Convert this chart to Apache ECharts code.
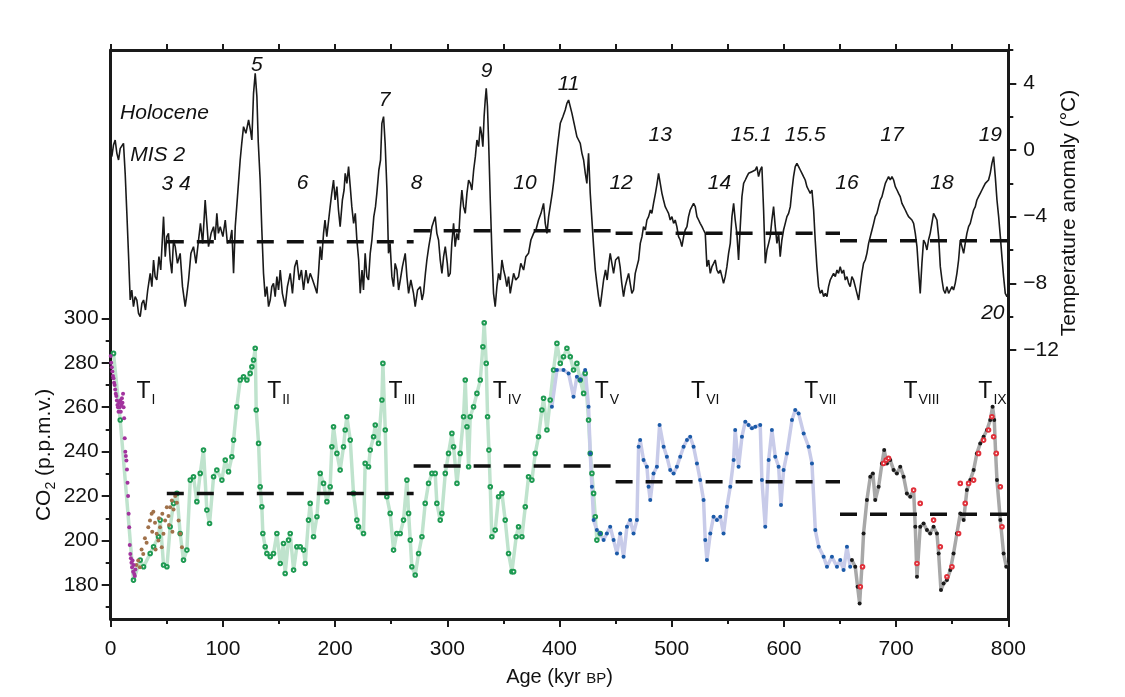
<!DOCTYPE html>
<html>
<head>
<meta charset="utf-8">
<script src="https://cdn.jsdelivr.net/npm/echarts@6/dist/echarts.min.js"></script>
<style>html,body{margin:0;padding:0;background:#fff}#chart{width:1125px;height:697px}</style>
</head>
<body>
<div id="chart"></div>
<script>
// ---------------- DATA ----------------
// Temperature anomaly (°C) vs age (kyr BP)
const temperature = [
[1.0,-0.4],[2.5,0.3],[4,0.6],[5.5,-0.2],[7,-0.6],[8.5,0.1],[10,0.2],[11.4,0.4],[12.9,-1.4],[14.4,-3.8],[16,-6.5],[17.4,-9],[18.8,-8.4],[20.3,-9.4],[21.8,-8.8],[23.3,-9],[24.8,-9.8],[26.3,-10],[27.8,-9.2],[29.3,-9],[31,-9.6],[33,-8.4],[35.2,-7.4],[36.7,-8.2],[38.2,-6.6],[39.6,-7.6],[41.1,-7.8],[43,-6.4],[44.6,-7.2],[47.1,-4],[48.6,-6.4],[50,-5.2],[51.5,-5],[53,-6.6],[54.5,-7.4],[56,-5.4],[57.5,-5.8],[59.5,-6.8],[61.9,-6.2],[64,-8.2],[66.4,-9.4],[68,-8.6],[69.4,-7.8],[71.5,-6.2],[73.8,-5.8],[76,-6.8],[78.3,-5.4],[80,-4.4],[82,-5.6],[84.2,-3],[85.7,-4.4],[87.2,-5.8],[89.5,-5.0],[91.7,-4.6],[93,-5.4],[94.6,-3.8],[96,-5],[97.6,-4.6],[100,-5.2],[102.1,-4.2],[104,-5.6],[106.5,-5.4],[108,-4.8],[109.5,-7.4],[111,-4.6],[113,-2.8],[115.4,-0.6],[116.8,0.4],[118.4,1.4],[120.5,1.0],[122.9,1.8],[124.5,1.2],[125.8,0.6],[127.3,3.4],[128.8,4.6],[130.3,3.2],[131.5,0.5],[133.2,-1.8],[134.7,-4.8],[136.2,-7.4],[137.7,-8.8],[139.2,-8.2],[140.7,-9.4],[142.2,-9],[143.6,-8.2],[145.1,-8],[146.6,-8.8],[148.1,-7.6],[149.6,-8.4],[151.1,-7.2],[153,-8.6],[155.5,-9.4],[157.5,-8.2],[160,-7.4],[162,-8.6],[164,-7],[165.9,-6.6],[168,-7.8],[170,-7.2],[171.9,-8.4],[174,-7.2],[175.8,-8],[177.8,-7.4],[180,-7.8],[182,-8.2],[183.8,-8.6],[185.2,-7.4],[186.7,-5.8],[188,-6.6],[189.7,-5],[191,-4.2],[192.6,-5.2],[195.6,-3.4],[197,-2.6],[198.6,-1.8],[200,-3],[201.6,-2.2],[203,-3.6],[204.5,-4.6],[206.5,-3],[208,-2.4],[209,-1.4],[210.5,-2],[212,-1],[213.5,-2.2],[214.9,-3.4],[216.5,-4.4],[218,-3.8],[219.4,-5.4],[221,-6.6],[222.4,-8.6],[224,-7.2],[225.3,-8.4],[226.8,-6.2],[228.3,-7.6],[229.8,-7.8],[231.3,-6.2],[232.8,-5.4],[234.5,-4],[236,-3.4],[237.2,-2.6],[239,-1.2],[240.5,-0.6],[241.7,1.6],[243.2,2],[244.6,0.4],[246.2,-2.4],[247.6,-6.2],[249,-5.6],[250.6,-7.6],[252.1,-8.2],[253.5,-6.8],[255.1,-7.2],[256.6,-8.4],[258.1,-7.8],[260,-7.0],[262.5,-6.2],[264,-7.6],[265.5,-8.6],[267.5,-7.8],[269.9,-8.6],[271.4,-9.4],[273.5,-8.4],[275.9,-8.2],[277.5,-9.0],[278.8,-8.6],[280.5,-7.4],[281.8,-6.6],[283.5,-5.8],[285,-5.2],[286.3,-4.6],[289.2,-4],[290.7,-5.0],[292.2,-5.4],[293.7,-6.6],[295.2,-7.4],[296.7,-6.4],[298.2,-5.8],[300,-6.8],[301,-7.6],[302.6,-7.4],[304,-5.6],[305.6,-4.4],[307,-5.8],[308.5,-5.0],[310,-5.4],[311.5,-3.6],[313,-2.4],[314.5,-3.4],[316,-3.8],[317.5,-2.6],[319,-1.8],[320.5,-2.0],[321.9,-2.4],[323.5,-1.2],[325,-0.4],[326.4,0.6],[327.9,0.2],[329.4,1.4],[330.5,1.0],[331.7,0.2],[332.8,2.0],[333.8,3],[334.7,3.7],[335.8,2.6],[336.8,0.6],[338.3,-3.0],[339.8,-6.2],[341.2,-8.6],[342.7,-9.4],[344.2,-8.2],[345.7,-7.4],[347.2,-7.8],[348.7,-6.6],[350.2,-7.2],[351.6,-7.6],[353.1,-8.2],[354.6,-7.6],[356.1,-8.6],[357.6,-8.0],[359.1,-7.4],[361,-7.8],[363.5,-7.6],[365.5,-6.8],[368,-7.2],[370,-6.4],[372.4,-6.2],[374.5,-5.4],[376.9,-5],[379,-4.8],[381.3,-4.2],[383.5,-3.8],[385.8,-3.2],[387.3,-4.4],[388.8,-5],[390.3,-4.0],[391.7,-4],[393.5,-2.6],[395,-1.8],[396.2,-1],[398.5,0.4],[400.7,1.6],[403,2.0],[405.1,2.4],[406.6,2.8],[408.1,3],[409.6,2.6],[411.1,2.2],[413,1.6],[415.5,0.8],[417,0.6],[418.5,0.4],[420,-0.2],[421.5,-0.6],[423,-1.4],[424.4,-2],[425.9,-0.2],[427.4,-2.6],[428.9,-4.2],[430.4,-5.8],[431.9,-7.2],[433.3,-8],[434.8,-8.8],[436.3,-9.4],[437.8,-8.6],[439.3,-7.8],[441,-7.2],[442.5,-7.8],[444,-6.8],[445.2,-6.2],[446.7,-6.8],[448.2,-7.4],[450,-6.6],[452.6,-6.4],[454,-7.0],[455.5,-8.0],[457.1,-8.8],[458.5,-8.2],[460,-7.8],[461.6,-7.4],[463,-8.0],[464.5,-8.6],[466,-8.4],[467.5,-7.4],[469,-7.0],[470.5,-6.6],[472,-5.6],[473.5,-5.2],[474.9,-4.6],[476.5,-4.8],[477.9,-4.2],[479.4,-4],[481,-3.6],[482.3,-3.8],[483.8,-3.2],[485.5,-2.6],[487,-2.0],[488.3,-1.4],[489.8,-2.0],[491.3,-2.6],[492.7,-3.0],[494.2,-3.4],[495.7,-3.6],[497.2,-3.8],[498.7,-4.2],[500.2,-4],[501.7,-4.4],[503.1,-4.2],[504.6,-4.6],[506.1,-5.2],[507.6,-5.4],[509.1,-5.8],[510.6,-5.2],[512,-4.8],[513.6,-4.6],[515,-4.0],[516.5,-3.6],[518,-3.4],[519.5,-3.2],[521,-3.4],[522.5,-4],[524,-4.2],[525.4,-4.4],[527,-4.6],[528.4,-4.8],[529.9,-5],[531.4,-7],[532.9,-6.6],[534.4,-7.4],[535.9,-7.0],[537.4,-6.8],[538.8,-6.6],[540.3,-7.2],[541.8,-7.4],[543.3,-7.2],[544.8,-7.6],[546.2,-8],[547.7,-7.6],[549.2,-7.0],[550.7,-6.2],[552.2,-5.6],[553.7,-4.0],[555.2,-3.2],[556.6,-4.2],[558.1,-5.0],[559.6,-6.6],[561.1,-4.6],[562.6,-2.8],[564.1,-2],[565.6,-1.8],[567,-1.6],[568.5,-1.4],[570,-1.5],[571.5,-1.3],[573,-1.4],[574.5,-1.2],[575.9,-1],[577.4,-1.6],[578.9,-1.2],[580.4,-1],[581.9,-3.6],[583.4,-6.8],[584.9,-6.0],[586.4,-5.6],[587.8,-5.2],[589.3,-4.2],[590.8,-3.4],[592.3,-4.6],[593.8,-5.6],[595.3,-5.0],[596.7,-6.4],[598.2,-5.4],[599.7,-4.8],[601.2,-4.4],[602.7,-4.0],[604.2,-3.8],[605.7,-3.4],[607.2,-2.4],[608.6,-1.6],[610.1,-1],[611.6,-0.8],[613.1,-1],[614.6,-1.2],[616.1,-1.4],[617.5,-1.6],[619,-1.8],[620.5,-2.2],[622,-2.4],[623.5,-2.6],[625,-2.4],[626.5,-3.6],[627.9,-5.4],[629.4,-7.0],[630.9,-8.2],[632.4,-8.6],[633.9,-8.4],[635.4,-8.8],[636.9,-8.6],[638.4,-8.8],[639.8,-8.2],[641.3,-7.8],[642.8,-7.6],[644.3,-7.4],[645.8,-7.6],[647.3,-7.2],[648.7,-7.4],[650.2,-7],[651.7,-7.4],[653.2,-7.2],[654.7,-7.8],[656.2,-7.6],[657.7,-8.0],[659.1,-8.2],[660.6,-7.6],[662.1,-7.8],[663.6,-8.2],[665.1,-8.6],[666.6,-9],[668,-8.2],[669.5,-7.4],[671,-6.8],[672.5,-6.6],[674,-6.2],[675.5,-5.6],[677,-5.2],[678.5,-4.8],[680,-4.4],[681.4,-4.0],[682.9,-3.8],[684.4,-3.4],[685.9,-3.0],[687.4,-2.8],[688.9,-2.4],[690.4,-2.0],[691.8,-1.8],[693.3,-1.6],[694.8,-1.8],[696.3,-1.6],[697.8,-1.8],[699.3,-2.2],[700.8,-2.4],[702.2,-2.6],[703.7,-2.8],[705.2,-3.2],[706.7,-3.4],[708.2,-3.6],[709.6,-3.8],[711.1,-4.0],[712.6,-4.0],[714.1,-4.2],[715.6,-4.4],[717.1,-5.0],[718.6,-5.8],[720,-7.2],[721.5,-8.6],[723,-6.8],[724.5,-5.4],[726,-5.6],[727.5,-6.0],[728.9,-5.4],[730.4,-5.0],[731.9,-4.4],[733.4,-3.8],[734.9,-4.0],[736.4,-4.2],[737.9,-5.2],[739.4,-7],[740.9,-7.8],[742.3,-8.4],[743.8,-8.6],[745.3,-8.2],[746.8,-8.6],[748.3,-8.4],[749.8,-8.2],[751.2,-8.4],[752.7,-8],[754.2,-7.4],[755.7,-6.6],[757.2,-5.4],[758.7,-5.8],[760.2,-6.2],[761.6,-5.6],[763.1,-5.0],[764.6,-4.6],[766.1,-4.4],[767.6,-4.0],[769.1,-3.6],[770.6,-3.4],[772,-3.0],[773.5,-2.8],[775,-2.6],[776.5,-2.4],[778,-2.2],[779.5,-2.0],[781,-2.0],[782.4,-1.8],[783.9,-1.4],[785.4,-0.8],[786.9,-0.4],[788.4,-1.6],[789.9,-3],[791.4,-4.0],[792.9,-5.2],[794.3,-6.4],[795.8,-7.6],[797.3,-8.6],[798.8,-8.8],[800,-8.6]
];

// CO2 (p.p.m.v.) records
const co2Purple = [[0,283],[0.5,280],[1,278],[1.5,276],[2,274],[2.5,273],[3,271],[3.5,270],[4,268],[4.5,266],[5,265],[5.5,263],[6,261],[6.5,260],[7,258],[7.5,262],[8,260],[8.5,263],[9,258],[9.5,261],[10,264],[10.5,262],[11,266],[11.5,260],[12,255],[12.5,246],[13,240],[13.5,238],[14,236],[14.5,232],[15,226],[15.5,220],[16,212],[16.5,206],[17,198],[17.5,194],[18,192],[18.5,190],[19,188],[19.5,191],[20,186],[20.5,189],[21,185],[21.5,184],[22,187]];
const co2Brown = [[23,189],[24.5,191],[26,188],[27.5,196],[29,194],[30.5,201],[32,199],[33.5,206],[35,209],[36.5,212],[38,213],[39.5,208],[41,203],[42.5,200],[44,206],[45.5,197],[47,203],[48.5,209],[50,215],[51.5,211],[53,215],[54.5,218],[56,214],[57.5,220],[59,217],[60.5,209],[62,203],[63.5,197],[37,204],[40,196],[43,210],[46,212],[52,207],[55,204]];
const co2Green = [[2.5,284.2],[8.5,254.2],[20.3,182.2],[26.3,191.2],[29.3,188.2],[35.2,194.2],[38.2,197.2],[42.6,201.7],[44.1,209.2],[47.1,189],[50.1,188.2],[53,206.2],[56,216.7],[59,221.2],[61.9,203.2],[64.9,191.2],[67.9,195.7],[70.9,227.2],[73.8,228.7],[76.8,217.5],[79.8,230.2],[82.7,240.7],[85.7,213.7],[88.1,207.7],[91.7,228.7],[94.6,231.7],[99.1,227.2],[102.1,236.2],[105,231],[108,237.7],[109.5,245.2],[112.4,260.2],[115.4,272.2],[118.4,273.7],[121.4,272.2],[124.3,275.2],[125.8,278.2],[127.3,281.2],[128.8,286.5],[129.7,258.7],[131.8,243.7],[133.2,224.2],[134.7,215.2],[135.6,203.2],[137.7,197.2],[139.2,194.2],[142.2,192.7],[145.1,194.2],[148.1,203.2],[151.1,189.7],[154,198.7],[155.5,185.2],[158.5,200.2],[160,203.2],[163,186.7],[165.9,197.2],[168.9,197.2],[171.9,195.7],[173.4,189.7],[176.3,209.2],[177.8,216.7],[180.8,201.7],[183.8,210.7],[186.7,230.2],[189.7,225.7],[192.7,217.5],[195.6,224.2],[197.1,242.2],[198.6,251.2],[201.6,239.2],[204.5,231.7],[207.5,242.2],[209,249.7],[210.5,255.7],[213.5,245.2],[216.4,221.2],[219.4,209.2],[220.9,206.2],[225.3,203.2],[226.8,234.7],[229.8,233.2],[231.3,240.7],[234.3,246.7],[235.8,252],[238.7,243.7],[241.7,263.2],[242.6,279.7],[244.7,249.7],[246.1,219.7],[249.1,212.2],[252.1,195.7],[255,203.2],[258,203.2],[261,209.2],[264,227.2],[265.5,212.2],[267,200.2],[268.4,188.2],[271.4,184.5],[274.4,194.2],[277.4,201.7],[280.3,216.7],[283.3,225.7],[286.3,230.2],[289.2,230.2],[290.7,216.7],[293.7,209.2],[295.2,212.2],[298.2,230.2],[301.1,239.2],[304.1,248.2],[305.6,242.2],[308.6,225.7],[311.5,239.2],[314.5,255.7],[316,272.2],[317.5,251.2],[319,233.2],[320.4,255.7],[323.4,260.2],[326.4,266.2],[329.4,272.2],[331.7,287.2],[332.9,298],[334.7,279.7],[335.9,255.7],[337.1,240.7],[338.3,224.2],[339.7,201.7],[342.7,204.7],[345.7,219.7],[348.7,221.2],[351.6,209.2],[354.6,194.2],[357.6,186],[359.1,186],[361.4,201.7],[363.5,206.2],[366.5,201.7],[369.5,215.2],[372.4,228.7],[375.4,227.2],[378.4,239.2],[381.3,246.7],[384.3,258.7],[385.8,264],[388.8,249.7],[391.7,263.2],[394.7,276.7],[397.7,288.7],[400.7,279.7],[403.6,282.7],[406.6,286.5],[409.6,282.7],[412.5,276.7],[415.5,279.7],[418.5,272.2],[421.5,266.2],[422.9,275.2],[425.9,254.2],[427.4,239.2],[428.9,230.2],[430.4,221.2],[431.9,210.7],[433.3,200.2],[436.3,203.2]];
const co2Blue = [[393.2,260.2],[397.7,276.7],[403.6,276.7],[408.1,275.2],[412.5,264.7],[415.5,273.7],[418.5,272.2],[422.9,276.7],[425.9,260.2],[427.4,239.2],[428.9,224.2],[430.4,209.2],[433.3,204.7],[436.3,203.2],[439.3,200.2],[442.2,203.2],[445.2,206.2],[448.2,200.2],[451.2,194.2],[454.1,203.2],[457.1,192.7],[460.1,206.2],[463,209.2],[466,203.2],[469,209.2],[470.5,242.2],[471.9,245.2],[474.9,236.2],[477.9,233.2],[479.4,224.2],[480.9,218.2],[483.8,230.2],[486.8,233.2],[489.2,252],[492.8,242.2],[495.7,237.7],[498.7,231.7],[501.7,230.2],[504.6,233.2],[507.6,237.7],[510.6,242.2],[513.6,245.2],[516.5,246.7],[519.5,242.2],[522.5,234.7],[525.4,227.2],[528.4,218.2],[529.9,200.2],[531.4,191.2],[534.4,203.2],[537.3,210.7],[540.3,209.2],[543.3,210.7],[546.2,203.2],[549.2,215.2],[552.2,224.2],[555.2,236.2],[556.6,249.7],[559.6,233.2],[562.6,246.7],[565.6,253.5],[568.5,252],[571.5,250.5],[574.5,251.2],[578.9,252],[580.4,227.2],[583.4,206.2],[586.4,236.2],[589.3,249.7],[592.3,237.7],[595.3,233.2],[597.4,216],[599.7,231.7],[602.7,239.2],[607.2,254.2],[610.1,258.7],[613.1,257.2],[617.6,248.2],[622,242.2],[625,234.7],[628,204.7],[631,197.2],[635.4,192.7],[638.4,188.2],[642.8,192.7],[647.3,188.2],[650.2,191.2],[653.2,186.7],[656.2,197.2],[659.1,188.2]];
const co2Black = [[660.6,191.2],[663.6,188.2],[665.7,179.2],[667.5,171.7],[669.5,188.2],[671,203.2],[674,218.2],[677,228.7],[679.3,230.2],[681.4,218.2],[684.4,224.2],[687.4,234.7],[689.4,240.7],[691.8,234.7],[694.8,236.2],[697.8,231.7],[700.7,230.2],[703.7,233.2],[706.7,228.7],[709.6,221.2],[712.6,219.7],[715.6,222.7],[717.1,206.2],[718.6,183.7],[721.5,206.2],[724.5,207.7],[727.5,204.7],[730.4,203.2],[733.4,206.2],[736.4,203.2],[737.9,194.2],[740,177.7],[742.3,180.7],[745.3,182.2],[748.3,186.7],[751.2,194.2],[754.2,203.2],[757.2,212.2],[760.2,209.2],[763.1,222.7],[766.1,227.2],[769.1,231.7],[772,239.2],[775,243.7],[778,246.7],[781,249.7],[783.9,254.2],[786,260.2],[787.5,254.2],[788.7,239.2],[789.9,227.2],[792.9,209.2],[795.8,194.2],[798.2,188.2]];
const co2Red = [[668.1,179.2],[670.1,188.2],[688.9,234.7],[691.2,236.2],[693.3,237],[715.6,222.7],[721.5,216.7],[718.6,189.7],[733.4,209.2],[739.4,197.2],[745.3,183.7],[749.8,188.2],[755.7,203.2],[757.2,225.7],[761.6,216.7],[764.6,225.7],[769.1,227.2],[773.5,239.2],[778,245.2],[782.4,249.7],[785.4,255.7],[786.9,246.7],[789.3,239.2],[792.9,224.2],[794.4,206.2]];

// Interval means (dashed lines)
const meanStart = [50, 270, 450, 650];
const meanEnd = [270, 450, 650, 800];
const tempMean = [-5.5, -4.85, -5.0, -5.45];
const co2Mean = [221.2, 233.5, 226.5, 211.8];

// Marine isotope stage labels
const misNames = ['Holocene','MIS 2','3 4','5','6','7','8','9','10','11','12','13','14','15.1','15.5','16','17','18','19','20'];
const misAge   = [47.9, 41.9, 58.2, 130.3, 171.1, 244.0, 272.6, 335.0, 369.2, 408.1, 454.9, 489.8, 542.5, 570.8, 619.0, 656.2, 696.3, 740.9, 784.0, 786.2];
const misTemp  = [2.2, -0.3, -2.05, 5.1, -2.0, 3.0, -2.0, 4.75, -2.0, 3.95, -2.0, 0.9, -2.0, 0.9, 0.9, -2.0, 0.9, -2.0, 0.9, -9.8];

// Terminations
const termNames = ['I','II','III','IV','V','VI','VII','VIII','IX'];
const termAge   = [31.5, 149.6, 259.6, 353.1, 442.3, 529.9, 632.4, 722.6, 785.9];
const termCO2   = [266, 266, 266, 266, 266, 266, 266, 266, 266];

// Axis ticks
const xTickInterval = 100;
const co2Ticks = [180, 200, 220, 240, 260, 280, 300];
const co2MinorTicks = [170, 190, 210, 230, 250, 270, 290];
const tempTicks = [4, 0, -4, -8, -12];
const tempMinorTicks = [6, 2, -2, -6, -10];

// ---------------- CHART ----------------
const FONT = '"Liberation Sans", Arial, Helvetica, sans-serif';
const INK = '#1a1a1a';
const CO2_MIN = 164.7, CO2_MAX = 420.7;
const T_MIN = -28.14, T_MAX = 6;

const chart = echarts.init(document.getElementById('chart'), null, {renderer: 'canvas'});

const axisLineStyle = {show: true, onZero: false, lineStyle: {color: INK, width: 3}};
const tickStyle = {color: INK, width: 2};

const meanSeries = [];
meanStart.forEach((s, i) => {
  meanSeries.push({
    type: 'line', xAxisIndex: 0, yAxisIndex: 2, symbol: 'none', silent: true, z: 5,
    data: [[s, tempMean[i]], [meanEnd[i], tempMean[i]]],
    lineStyle: {color: '#111', width: 3.5, type: [17, 13]}
  });
  meanSeries.push({
    type: 'line', xAxisIndex: 0, yAxisIndex: 0, symbol: 'none', silent: true, z: 5,
    data: [[s, co2Mean[i]], [meanEnd[i], co2Mean[i]]],
    lineStyle: {color: '#111', width: 3.5, type: [17, 13]}
  });
});

function co2Line(data, lineColor, dotColor, empty) {
  return {
    type: 'line', xAxisIndex: 0, yAxisIndex: 0, data: data,
    symbol: empty ? 'emptyCircle' : 'circle', symbolSize: empty ? 3.6 : 4, showAllSymbol: true,
    lineStyle: {color: lineColor, width: 3.5},
    itemStyle: {color: dotColor, borderWidth: empty ? 1.2 : 0}
  };
}
function co2Dots(data, color, empty) {
  return {
    type: 'scatter', xAxisIndex: 0, yAxisIndex: 0, data: data,
    symbol: empty ? 'emptyCircle' : 'circle', symbolSize: empty ? 3.6 : 4,
    itemStyle: {color: color, borderWidth: empty ? 1.1 : 0, opacity: 1}, z: 4
  };
}

const plainLabel = {color: '#111', opacity: 1, textBorderWidth: 0, textShadowBlur: 0, fontFamily: FONT};

const option = {
  animation: false,
  backgroundColor: '#ffffff',
  grid: {left: 110.7, right: 116.7, top: 50, bottom: 78, containLabel: false},
  xAxis: [
    {
      type: 'value', position: 'bottom', min: 0, max: 800, interval: xTickInterval,
      axisLine: axisLineStyle,
      axisTick: {show: true, inside: false, length: 8, lineStyle: tickStyle},
      minorTick: {show: true, splitNumber: 2, length: 5, lineStyle: tickStyle},
      axisLabel: {fontSize: 21, color: '#111', fontFamily: FONT, margin: 20},
      splitLine: {show: false}, minorSplitLine: {show: false},
      name: '{a|Age (kyr }{b|BP}{a|)}', nameLocation: 'middle', nameGap: 48,
      nameTextStyle: {rich: {
        a: {fontSize: 20, fontFamily: FONT, color: '#111', verticalAlign: 'bottom'},
        b: {fontSize: 15, fontFamily: FONT, color: '#111', verticalAlign: 'bottom', padding: [0, 0, 1, 0]}
      }}
    },
    {
      type: 'value', position: 'top', min: 0, max: 800, interval: 50,
      axisLine: axisLineStyle,
      axisTick: {show: true, inside: false, length: 6, lineStyle: tickStyle},
      axisLabel: {show: false}, splitLine: {show: false}
    }
  ],
  yAxis: [
    {
      type: 'value', position: 'left', min: CO2_MIN, max: CO2_MAX,
      axisLine: axisLineStyle,
      axisTick: {show: true, inside: false, length: 9, customValues: co2Ticks, lineStyle: tickStyle},
      axisLabel: {show: true, customValues: co2Ticks, fontSize: 21, color: '#111', fontFamily: FONT, margin: 12},
      splitLine: {show: false}
    },
    {
      type: 'value', position: 'left', min: CO2_MIN, max: CO2_MAX,
      axisLine: {show: false, onZero: false},
      axisTick: {show: true, inside: false, length: 5, customValues: co2MinorTicks, lineStyle: tickStyle},
      axisLabel: {show: false}, splitLine: {show: false}
    },
    {
      type: 'value', position: 'right', min: T_MIN, max: T_MAX,
      axisLine: axisLineStyle,
      axisTick: {show: true, inside: false, length: 8, customValues: tempTicks, lineStyle: tickStyle},
      axisLabel: {show: true, customValues: tempTicks, fontSize: 21, color: '#111', fontFamily: FONT, margin: 15,
        formatter: v => (v < 0 ? '\u2212' + Math.abs(v) : String(v))},
      splitLine: {show: false}
    },
    {
      type: 'value', position: 'right', min: T_MIN, max: T_MAX,
      axisLine: {show: false, onZero: false},
      axisTick: {show: true, inside: false, length: 5, customValues: tempMinorTicks, lineStyle: tickStyle},
      axisLabel: {show: false}, splitLine: {show: false}
    }
  ],
  graphic: [
    {
      type: 'text', x: 46, y: 455, rotation: Math.PI / 2,
      style: {
        text: '{a|CO}{s|2}{a| (p.p.m.v.)}', align: 'center', verticalAlign: 'middle',
        rich: {
          a: {fontSize: 21, fontFamily: FONT, fill: '#111', verticalAlign: 'top'},
          s: {fontSize: 14, fontFamily: FONT, fill: '#111', verticalAlign: 'bottom', padding: [10, 0, 0, 0]}
        }
      }
    },
    {
      type: 'text', x: 1069, y: 213, rotation: Math.PI / 2,
      style: {text: 'Temperature anomaly (°C)', align: 'center', verticalAlign: 'middle',
        fontSize: 21, fontFamily: FONT, fill: '#111'}
    }
  ],
  series: [
    co2Line(co2Green, '#bfe3cd', '#1e9a52', true),
    co2Line(co2Blue, '#c8cbe9', '#1b5aa8', false),
    co2Line(co2Black, '#a8a8a8', '#1a1a1a', false),
    co2Dots(co2Brown, '#a0714a', false),
    co2Dots(co2Purple, '#a2339e', false),
    co2Dots(co2Red, '#e0303a', true),
    {
      type: 'line', xAxisIndex: 0, yAxisIndex: 2, data: temperature, symbol: 'none',
      lineStyle: {color: INK, width: 1.6}, z: 3
    },
    ...meanSeries,
    {
      type: 'scatter', xAxisIndex: 0, yAxisIndex: 2, symbolSize: 0.1, silent: true, z: 6,
      itemStyle: {color: 'rgba(0,0,0,0)', opacity: 1},
      data: misNames.map((n, i) => ({name: n, value: [misAge[i], misTemp[i]]})),
      label: Object.assign({show: true, position: 'inside', formatter: p => p.name,
        fontSize: 21, fontStyle: 'italic'}, plainLabel)
    },
    {
      type: 'scatter', xAxisIndex: 0, yAxisIndex: 0, symbolSize: 0.1, silent: true, z: 6,
      itemStyle: {color: 'rgba(0,0,0,0)', opacity: 1},
      data: termNames.map((n, i) => ({name: n, value: [termAge[i], termCO2[i]]})),
      label: Object.assign({show: true, position: 'inside', formatter: p => '{t|T}{s|' + p.name + '}',
        rich: {
          t: Object.assign({fontSize: 23, verticalAlign: 'top'}, plainLabel),
          s: Object.assign({fontSize: 14, verticalAlign: 'bottom', padding: [13, 0, 0, 1]}, plainLabel)
        }}, plainLabel)
    }
  ]
};
chart.setOption(option);
</script>
</body>
</html>
